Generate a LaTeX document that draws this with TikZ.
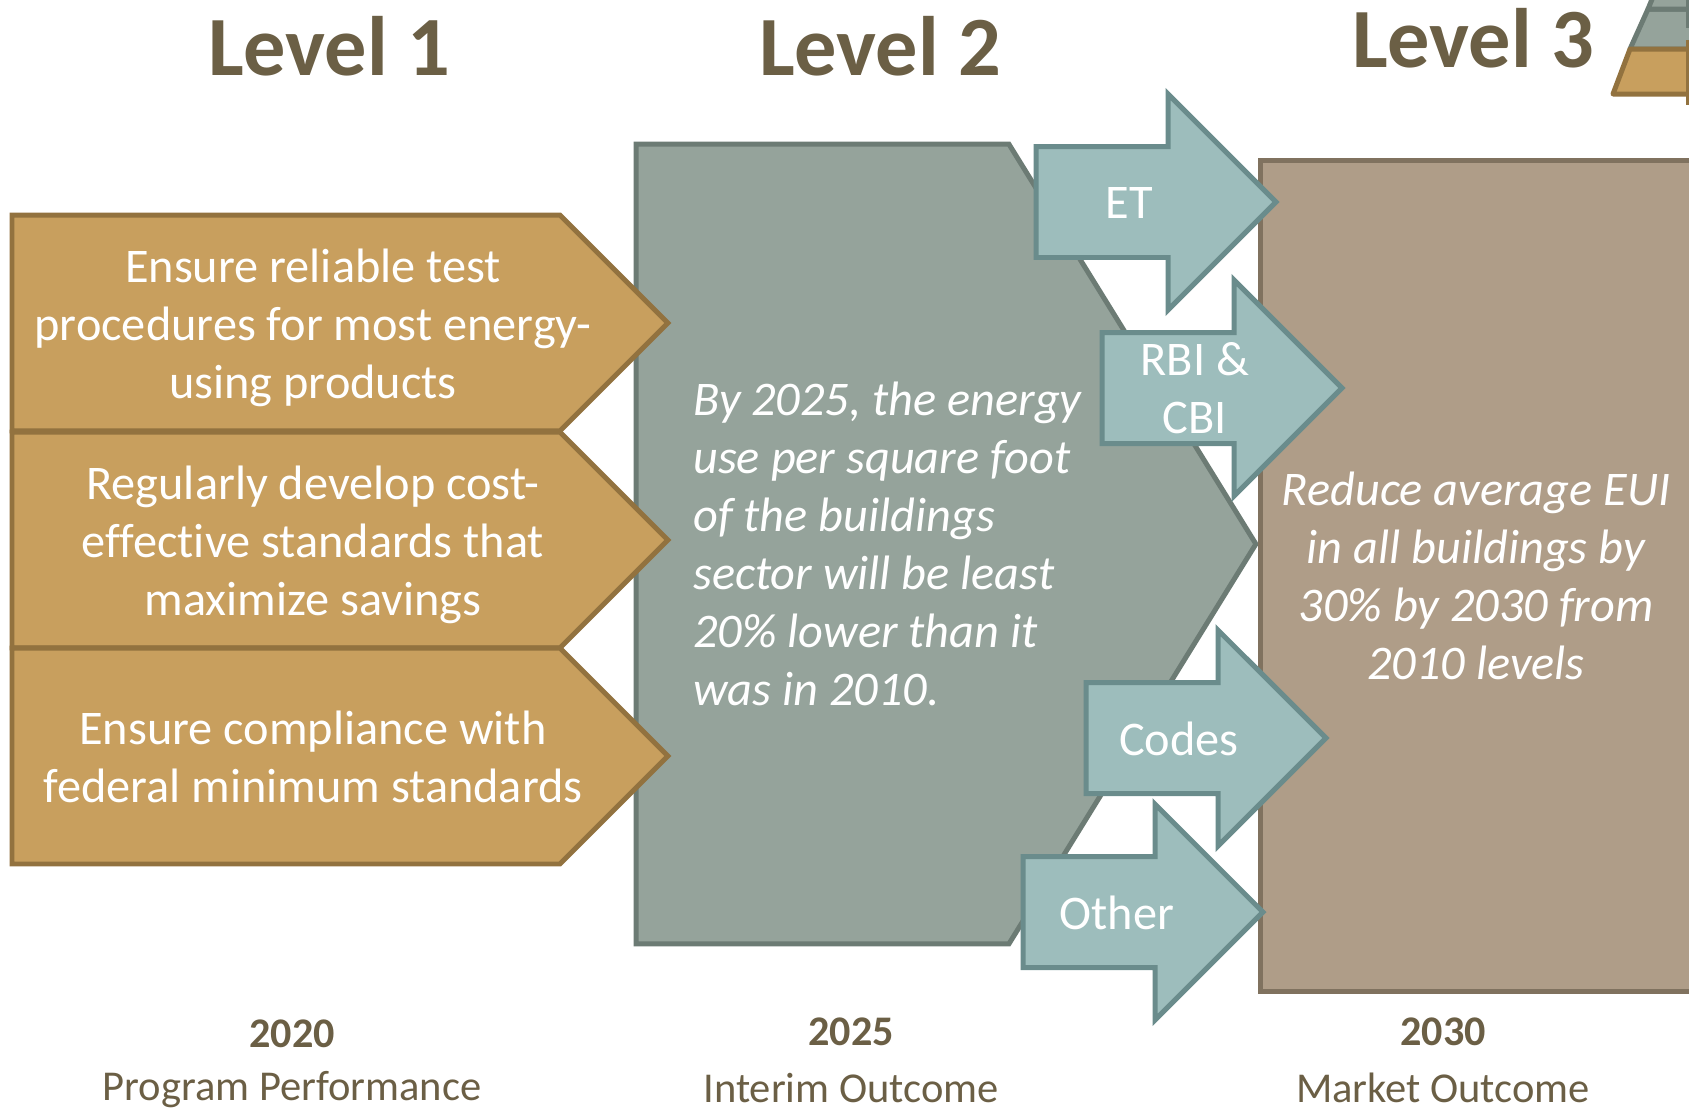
\documentclass[tikz,border=0pt]{standalone}
\usepackage{fontspec}
\setmainfont[Ligatures=NoCommon]{Carlito}
\usetikzlibrary{shapes.symbols,shapes.arrows,positioning}
\definecolor{tanfill}{HTML}{C89F5E}
\definecolor{tanline}{HTML}{92723F}
\definecolor{greyfill}{HTML}{95A39B}
\definecolor{greyline}{HTML}{6C7B74}
\definecolor{brownfill}{HTML}{AF9D88}
\definecolor{brownline}{HTML}{80725F}
\definecolor{tealfill}{HTML}{9DBDBC}
\definecolor{tealline}{HTML}{6A8C8C}
\definecolor{headtext}{HTML}{6B5F45}

\begin{document}
\begin{tikzpicture}[x=0.02cm,y=-0.02cm,line width=0.1cm,
  step box/.style={signal,signal from=nowhere,signal to=east,inner sep=0pt,outer sep=0pt,anchor=west},
  practice/.style={step box,draw=tanline,fill=tanfill,signal pointer angle=90,minimum width=13.12cm,minimum height=4.32cm},
  flow/.style={single arrow,draw=tealline,fill=tealfill,inner xsep=0pt,inner ysep=1.06cm,outer sep=0pt,anchor=west,
    single arrow head extend=1.05cm,single arrow head indent=0pt,single arrow tip angle=90,minimum height=4.8cm},
  label/.style={text=white,font=\fontsize{27.5}{33}\selectfont,align=center},
  outcome/.style={label,font=\fontsize{27.5}{33}\selectfont\itshape},
  level/.style={text=headtext,font=\fontsize{48}{56}\selectfont\bfseries},
  year/.style={text=headtext,font=\fontsize{24}{29}\selectfont\bfseries},
  kind/.style={text=headtext,font=\fontsize{24.2}{29}\selectfont}]

  \useasboundingbox (0,0) rectangle (1689,1110);
  \clip (0,0) rectangle (1689,1110);

  % pyramid in the corner
  \draw[draw=greyline,fill=greyfill,line join=round] (1630,49) -- (1648,9) -- (1720,9) -- (1720,49) -- cycle;
  \draw[draw=greyline,fill=greyfill,line join=round] (1648,9) -- (1655,-8) -- (1720,-8) -- (1720,9) -- cycle;
  \draw[draw=tanline,fill=tanfill,line join=round] (1630,49) -- (1613,94) -- (1720,94) -- (1720,49) -- cycle;
  \draw[tanline] (1688,40) -- (1688,105);
  \draw[greyline] (1688,-5) -- (1688,28);

  \node[step box,draw=greyline,fill=greyfill,signal pointer angle=116.6,minimum width=12.4cm,minimum height=16.0cm] (interim) at (636,544) {};
  \draw[draw=brownline,fill=brownfill] (1260,160) rectangle (1720,991);

  \node[practice] (test) at (12,323) {};
  \node[practice] (develop) at (12,540) {};
  \node[practice] (comply) at (12,756) {};

  \node[flow] (et) at (1036,202) {};
  \node[flow] (rbi) at (1102,388) {};
  \node[flow] (codes) at (1086,738) {};
  \node[flow] (other) at (1023,912) {};

  \node[label] (testtext) at (313,328) {Ensure reliable test\\procedures for most energy-\\using products};
  \node[label] (developtext) at (313,545) {Regularly develop cost-\\effective standards that\\maximize savings};
  \node[label] (complytext) at (313,757) {Ensure compliance with\\federal minimum standards};

  \node[outcome,align=left,anchor=west] (interimtext) at (685,544) {By 2025, the energy\\use per square foot\\of the buildings\\sector will be least\\20\% lower than it\\was in 2010.};
  \node[outcome] (markettext) at (1476,576) {Reduce average EUI\\in all buildings by\\30\% by 2030 from\\2010 levels};

  \node[label] (ettext) at (1129,203) {ET};
  \node[label] (rbitext) at (1195,388) {RBI \&\\CBI};
  \node[label] (codestext) at (1179,739) {Codes};
  \node[label] (othertext) at (1117,913) {Other};

  \node[level] (level1) at (329,46) {Level 1};
  \node[level] (level2) at (880,46) {Level 2};
  \node[level] (level3) at (1473,38) {Level 3};

  \node[year] (y2020) at (292,1034) {2020};
  \node[year] (y2025) at (851,1032) {2025};
  \node[year] (y2030) at (1443,1032) {2030};
  \node[kind] (program) at (292,1090) {Program Performance};
  \node[kind] (interimkind) at (851,1088) {Interim Outcome};
  \node[kind] (marketkind) at (1443,1088) {Market Outcome};

\end{tikzpicture}
\end{document}
